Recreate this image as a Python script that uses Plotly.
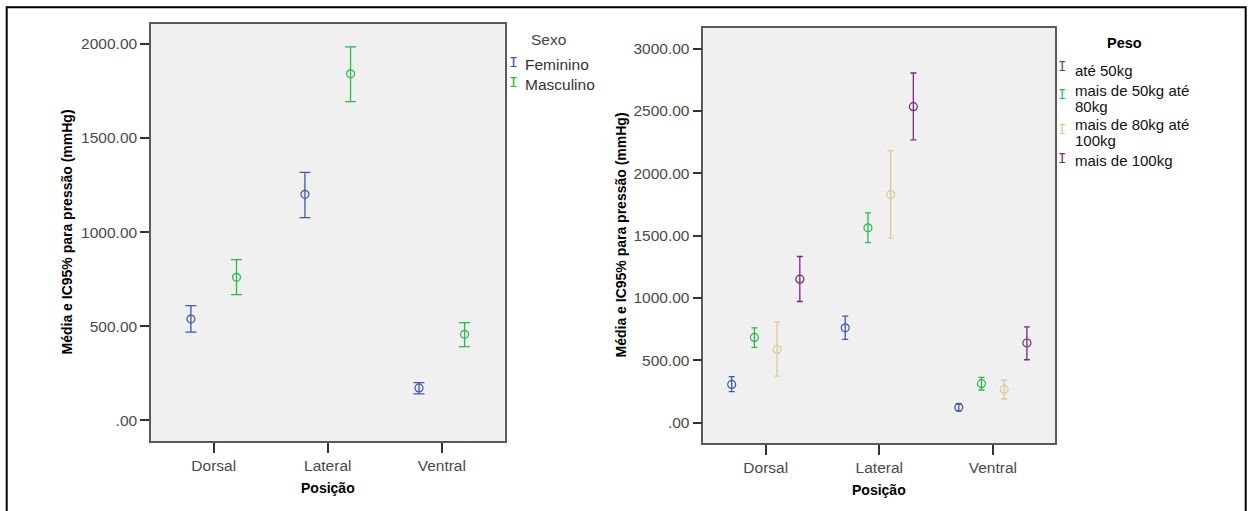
import numpy as np
import plotly.graph_objects as go

# ---------------- data ----------------
posicoes = ["Dorsal", "Lateral", "Ventral"]

sexo_labels = ["Feminino", "Masculino"]
sexo_mean = [[538, 1201, 172], [760, 1841, 457]]
sexo_low = [[469, 1077, 140], [668, 1693, 391]]
sexo_high = [[609, 1318, 200], [854, 1984, 519]]

peso_labels = ["até 50kg", "mais de 50kg até 80kg", "mais de 80kg até 100kg", "mais de 100kg"]
peso_legend_lines = [["até 50kg"], ["mais de 50kg até", "80kg"], ["mais de 80kg até", "100kg"], ["mais de 100kg"]]
peso_mean = [[307, 761, 123], [684, 1563, 313], [588, 1830, 267], [1151, 2535, 639]]
peso_low = [[249, 668, 94], [604, 1445, 262], [374, 1480, 190], [972, 2268, 505]]
peso_high = [[369, 855, 150], [761, 1683, 364], [809, 2183, 342], [1333, 2805, 769]]

y1_ticks = [0, 500, 1000, 1500, 2000]
y1_text = [".00", "500.00", "1000.00", "1500.00", "2000.00"]
y2_ticks = [0, 500, 1000, 1500, 2000, 2500, 3000]
y2_text = [".00", "500.00", "1000.00", "1500.00", "2000.00", "2500.00", "3000.00"]

sexo_colors = ["#3e58ac", "#2eb848"]
peso_colors = ["#3e58ac", "#2eb848", "#d3ce97", "#7c287d"]

W, H = 1249, 511
FONT = "Liberation Sans, Arial, sans-serif"
GLYPH = "Liberation Mono, DejaVu Sans Mono, monospace"


def px(x):
    return x / W


def py(y):
    return 1 - y / H


fig = go.Figure()

for i, name in enumerate(sexo_labels):
    m = np.array(sexo_mean[i])
    fig.add_trace(go.Scatter(
        x=posicoes, y=m, name=name, mode="markers", offsetgroup=name,
        xaxis="x", yaxis="y", showlegend=False,
        marker=dict(symbol="circle-open", size=8, color=sexo_colors[i], line=dict(width=1.2, color=sexo_colors[i])),
        error_y=dict(type="data", symmetric=False,
                     array=np.array(sexo_high[i]) - m, arrayminus=m - np.array(sexo_low[i]),
                     color=sexo_colors[i], thickness=1.3, width=5.5),
    ))

for i, name in enumerate(peso_labels):
    m = np.array(peso_mean[i])
    fig.add_trace(go.Scatter(
        x=posicoes, y=m, name=name, mode="markers", offsetgroup=name,
        xaxis="x2", yaxis="y2", showlegend=False,
        marker=dict(symbol="circle-open", size=8, color=peso_colors[i], line=dict(width=1.2, color=peso_colors[i])),
        error_y=dict(type="data", symmetric=False,
                     array=np.array(peso_high[i]) - m, arrayminus=m - np.array(peso_low[i]),
                     color=peso_colors[i], thickness=1.3, width=3),
    ))

axis_common = dict(showline=True, mirror=True, linecolor="#5a5a5a", linewidth=1.5,
                   showgrid=False, zeroline=False, ticks="outside", tickcolor="#333333",
                   tickwidth=1.5, tickfont=dict(family=FONT, size=15.5, color="#4a4a4a"))

fig.update_layout(
    width=W, height=H,
    margin=dict(l=0, r=0, t=0, b=0),
    paper_bgcolor="white", plot_bgcolor="#f0f0f0",
    scattermode="group", scattergap=0.2,
    showlegend=False,
    xaxis=dict(domain=[px(151), px(504.5)], type="category", range=[-0.55, 2.55],
               anchor="y", ticklen=10, **axis_common),
    yaxis=dict(domain=[py(441), py(24)], range=[-110, 2106], anchor="x",
               tickvals=y1_ticks, ticktext=y1_text, ticklen=9, **axis_common),
    xaxis2=dict(domain=[px(703.3), px(1055.3)], type="category", range=[-0.55, 2.55],
                anchor="y2", ticklen=10, **axis_common),
    yaxis2=dict(domain=[py(443), py(28)], range=[-163, 3166], anchor="x2",
                tickvals=y2_ticks, ticktext=y2_text, ticklen=9, **axis_common),
)

ann = []
# axis titles
ytitle = "Média e IC95% para pressão (mmHg)"
for xc, yc in [(67, 232.5), (620, 235.5)]:
    ann.append(dict(text=ytitle, x=px(xc), y=py(yc), xref="paper", yref="paper",
                    textangle=-90, showarrow=False, xanchor="center", yanchor="middle",
                    font=dict(family=FONT, size=14, color="black", weight="bold")))
for xc, yc in [(327.7, 488), (879.3, 490)]:
    ann.append(dict(text="Posição", x=px(xc), y=py(yc), xref="paper", yref="paper",
                    showarrow=False, xanchor="center", yanchor="middle",
                    font=dict(family=FONT, size=14, color="black", weight="bold")))

# left legend
ann.append(dict(text="Sexo", x=px(548), y=py(39), xref="paper", yref="paper", showarrow=False,
                xanchor="center", yanchor="middle", font=dict(family=FONT, size=15.5, color="#444444")))
for i, name in enumerate(sexo_labels):
    yy = 65 + 20 * i
    ann.append(dict(text="I", x=px(513.3), y=py(yy - 1.5), xref="paper", yref="paper", showarrow=False,
                    xanchor="center", yanchor="middle",
                    font=dict(family=GLYPH, size=15, color=sexo_colors[i])))
    ann.append(dict(text=name, x=px(523), y=py(yy), xref="paper", yref="paper", showarrow=False,
                    xanchor="left", yanchor="middle", font=dict(family=FONT, size=15.5, color="#333333")))

# right legend
ann.append(dict(text="Peso", x=px(1124), y=py(43), xref="paper", yref="paper", showarrow=False,
                xanchor="center", yanchor="middle",
                font=dict(family=FONT, size=14.5, color="black", weight="bold")))
line_y = [[70], [90, 106], [124, 140], [160]]
sym_y = [67, 95, 130, 159]
for i, lines in enumerate(peso_legend_lines):
    ann.append(dict(text="I", x=px(1062), y=py(sym_y[i]), xref="paper", yref="paper", showarrow=False,
                    xanchor="center", yanchor="middle",
                    font=dict(family=GLYPH, size=14, color=peso_colors[i])))
    for t, yy in zip(lines, line_y[i]):
        ann.append(dict(text=t, x=px(1073), y=py(yy), xref="paper", yref="paper", showarrow=False,
                        xanchor="left", yanchor="middle", font=dict(family=FONT, size=15, color="#111111")))

fig.update_layout(annotations=ann)

# outer frame
fig.add_shape(type="rect", xref="paper", yref="paper",
              x0=px(6.7), x1=px(1245.7), y0=-0.05, y1=py(7.3),
              line=dict(color="black", width=2), fillcolor="rgba(0,0,0,0)", layer="above")

fig.write_html("out.html", config={"displayModeBar": False},
               post_script="document.body.style.margin='0';")
